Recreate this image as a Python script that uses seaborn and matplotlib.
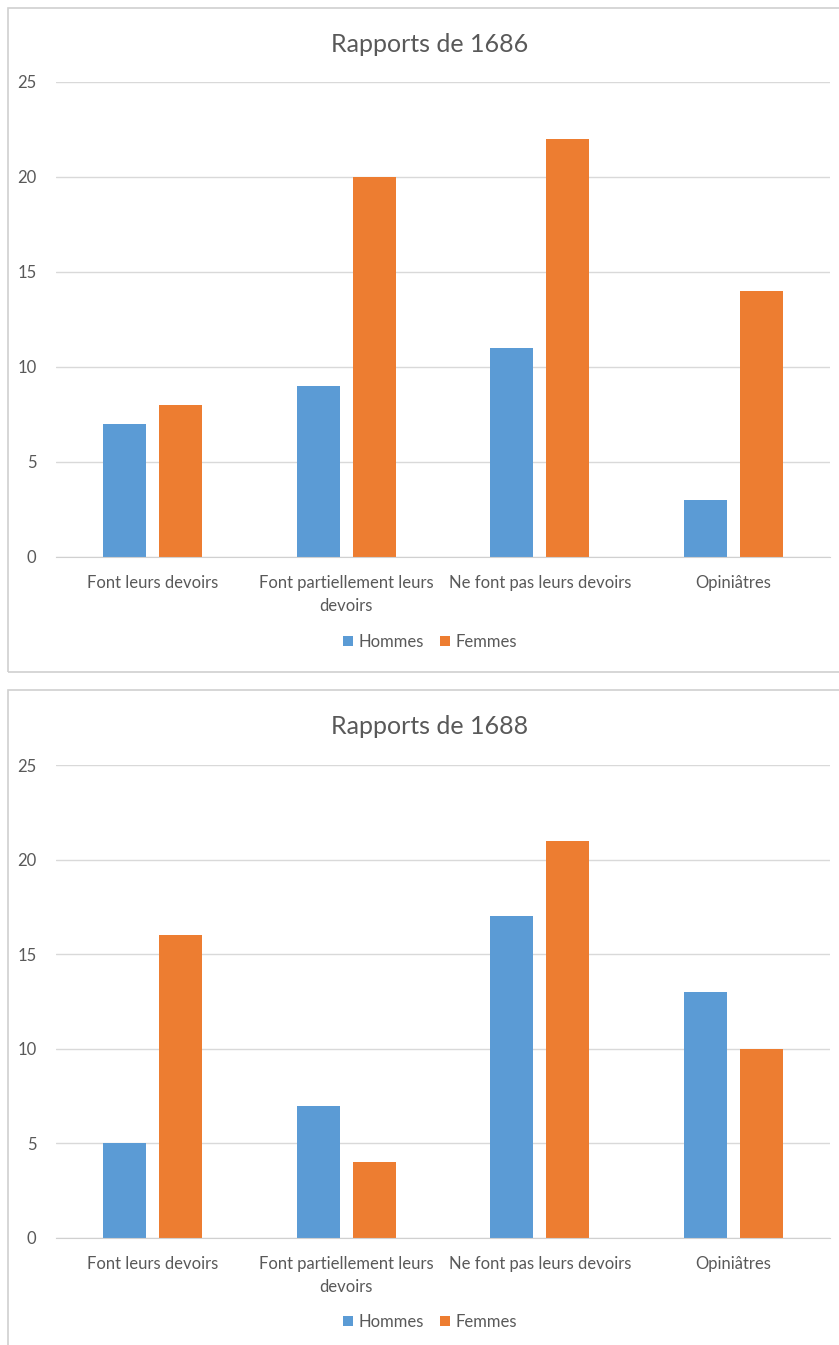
import pandas as pd
import seaborn as sns
import matplotlib.pyplot as plt
from matplotlib.patches import Rectangle

categories = ['Font leurs devoirs', 'Font partiellement leurs\ndevoirs',
              'Ne font pas leurs devoirs', 'Opiniâtres']
series = ['Hommes', 'Femmes']
hommes_1686 = [7, 9, 11, 3]
femmes_1686 = [8, 20, 22, 14]
hommes_1688 = [5, 7, 17, 13]
femmes_1688 = [16, 4, 21, 10]
titles = ['Rapports de 1686', 'Rapports de 1688']
yticks = [0, 5, 10, 15, 20, 25]

sns.set_style('white')
plt.rcParams['font.family'] = ['Lato', 'DejaVu Sans']

grey = '#595959'
palette = {'Hommes': '#5B9BD5', 'Femmes': '#ED7D31'}

W, H = 839, 1345
fig = plt.figure(figsize=(W / 100, H / 100), dpi=100)


def px(x0, y0, x1, y1):
    # pixel box -> figure fraction rect
    return [x0 / W, 1 - y1 / H, (x1 - x0) / W, (y1 - y0) / H]


def make_df(h, f):
    rows = []
    for c, a, b in zip(categories, h, f):
        rows.append({'cat': c, 'serie': 'Hommes', 'val': a})
        rows.append({'cat': c, 'serie': 'Femmes', 'val': b})
    return pd.DataFrame(rows)


panels = [
    (make_df(hommes_1686, femmes_1686), titles[0], (8, 8, 845, 672), (56, 82, 830, 557), 44, 642),
    (make_df(hommes_1688, femmes_1688), titles[1], (8, 690, 845, 1350), (56, 765, 830, 1238), 726, 1322),
]

for df, title, box, axbox, ty, ly in panels:
    fig.patches.append(Rectangle((box[0] / W, 1 - box[3] / H), (box[2] - box[0]) / W,
                                 (box[3] - box[1]) / H, transform=fig.transFigure,
                                 facecolor='none', edgecolor='#d0d0d0', linewidth=1.2,
                                 zorder=-1))
    ax = fig.add_axes(px(*axbox))
    ax.patch.set_alpha(0)
    sns.barplot(data=df, x='cat', y='val', hue='serie', hue_order=series,
                palette=palette, width=0.58, gap=0.23, saturation=1,
                edgecolor='none', ax=ax)
    ax.set_ylim(0, 25)
    ax.set_xlim(-0.5, 3.5)
    ax.set_yticks(yticks)
    ax.yaxis.grid(True, color='#d9d9d9', linewidth=1)
    ax.set_axisbelow(True)
    for s in ['top', 'right', 'left']:
        ax.spines[s].set_visible(False)
    ax.spines['bottom'].set_color('#d0d0d0')
    ax.tick_params(axis='both', length=0, colors=grey)
    ax.tick_params(axis='y', pad=14, labelsize=12)
    ax.tick_params(axis='x', pad=13, labelsize=12)
    for lab in ax.get_xticklabels():
        lab.set_linespacing(1.5)
    ax.set_xlabel('')
    ax.set_ylabel('')
    fig.text(430 / W, 1 - ty / H, title, ha='center', va='center',
             fontsize=18, color=grey)
    handles, labels = ax.get_legend_handles_labels()
    ax.legend(handles, labels, loc='center', bbox_to_anchor=(430 / W, 1 - ly / H),
              bbox_transform=fig.transFigure, ncol=2, frameon=False,
              handlelength=0.6, handleheight=0.6, handletextpad=0.3,
              columnspacing=1.0, fontsize=12, labelcolor=grey)

fig.savefig('out.png', dpi=100)
